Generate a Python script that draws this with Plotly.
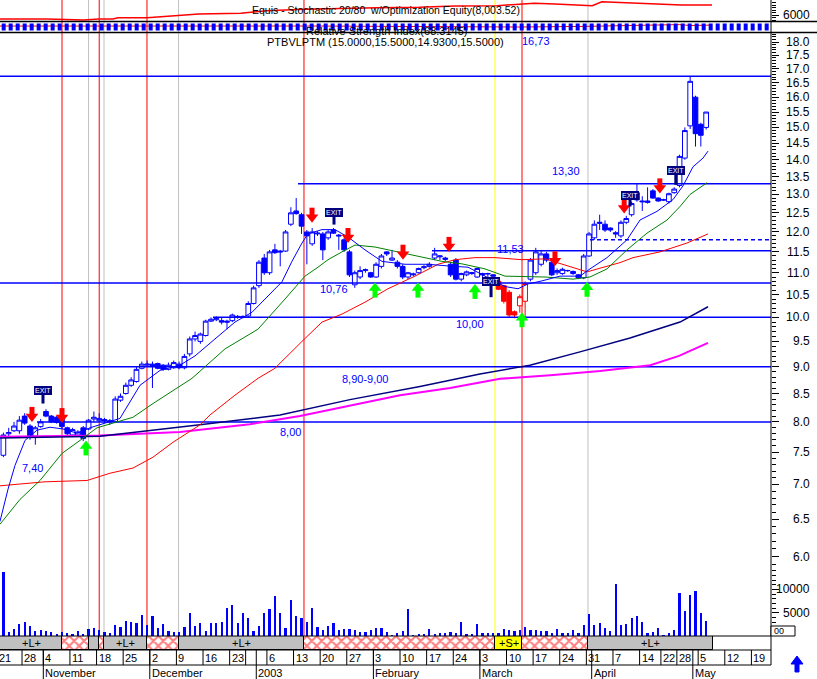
import math
import pandas as pd
import plotly.graph_objects as go

# ---------------- calendar (trading days, Lisbon) ----------------
calendar_start = "2002-10-21"
calendar_end = "2003-05-30"
market_holidays = ["2002-11-01", "2002-12-25", "2002-12-26", "2003-01-01",
                   "2003-04-18", "2003-04-21", "2003-04-25", "2003-05-01"]

week_tick_dates = ["2002-10-21", "2002-10-28", "2002-11-04", "2002-11-11", "2002-11-18", "2002-11-25",
                   "2002-12-02", "2002-12-09", "2002-12-16", "2002-12-23", "2002-12-30", "2003-01-06",
                   "2003-01-13", "2003-01-20", "2003-01-27", "2003-02-03", "2003-02-10", "2003-02-17",
                   "2003-02-24", "2003-03-03", "2003-03-10", "2003-03-17", "2003-03-24", "2003-03-31",
                   "2003-04-07", "2003-04-14", "2003-04-22", "2003-04-28", "2003-05-05", "2003-05-12",
                   "2003-05-19"]
week_tick_labels = ["21", "28", "4", "11", "18", "25", "2", "9", "16", "23", "", "6", "13", "20", "27",
                    "3", "10", "17", "24", "3", "10", "17", "24", "31", "7", "14", "22", "28", "5", "12", "19"]
month_tick_dates = ["2002-11-04", "2002-12-02", "2003-01-02", "2003-02-03", "2003-03-03", "2003-04-01", "2003-05-02"]
month_tick_labels = ["November", "December", "2003", "February", "March", "April", "May"]

# ---------------- candles (first candle = 22 Oct 2002) ----------------
first_candle_day = 1
candle_open = [7.45, 7.80, 7.85, 7.85, 8.10, 7.93, 7.76, 7.92, 8.18, 8.10,
               8.08, 8.05, 7.90, 7.78, 7.78, 7.90, 7.88, 8.05, 8.02, 8.04,
               8.00, 8.00, 8.38, 8.50, 8.65, 8.72, 8.97, 9.03, 9.05, 9.06,
               9.03, 8.95, 8.98, 9.05, 8.98, 9.25, 9.55, 9.50, 9.62, 9.92,
               9.95, 9.93, 9.92, 9.93, 10.00, 10.00, 10.03, 10.30, 10.70, 11.35,
               11.00, 11.55, 11.52, 11.52, 12.20, 12.55, 12.45, 12.00, 11.70, 11.95,
               11.95, 11.85, 12.05, 11.92, 11.80, 11.50, 10.72, 10.90, 11.05, 11.00,
               10.90, 11.15, 11.50, 11.30, 11.25, 11.15, 10.90, 10.95, 11.00, 11.12,
               11.15, 11.35, 11.38, 11.35, 11.20, 11.30, 10.85, 10.95, 10.98, 10.90,
               10.98, 10.97, 10.95, 10.80, 10.70, 10.55, 10.12, 10.25, 10.35, 10.85,
               11.00, 11.20, 11.45, 11.25, 11.00, 10.98,
               11.05, 11.03, 10.95, 10.88, 11.40, 11.85, 12.22, 12.20, 12.10, 11.98,
               11.90, 12.25, 12.45, 13.05, 12.82, 12.78, 13.10, 12.90, 12.85, 12.80,
               13.05, 13.25, 14.05, 15.05, 16.00, 15.10, 15.00]
candle_high = [7.82, 7.90, 8.00, 8.10, 8.15, 7.96, 7.93, 8.05, 8.22, 8.12,
               8.10, 8.08, 7.92, 7.90, 7.86, 7.93, 8.05, 8.18, 8.15, 8.07,
               8.05, 8.45, 8.50, 8.70, 8.80, 9.00, 9.10, 9.12, 9.10, 9.08,
               9.05, 9.08, 9.12, 9.10, 9.25, 9.60, 9.70, 9.68, 9.95, 10.00,
               10.02, 10.00, 9.95, 10.08, 10.05, 10.04, 10.35, 10.70, 11.30, 11.45,
               11.55, 11.70, 11.55, 12.05, 12.65, 12.90, 12.50, 12.05, 12.10, 12.02,
               12.00, 12.05, 12.10, 11.95, 11.85, 11.55, 11.05, 11.15, 11.10, 11.02,
               11.25, 11.45, 11.52, 11.55, 11.30, 11.20, 11.02, 11.00, 11.12, 11.18,
               11.25, 11.60, 11.42, 11.38, 11.25, 11.35, 11.00, 11.05, 11.02, 11.12,
               11.00, 11.00, 10.97, 10.85, 10.72, 10.60, 10.15, 10.50, 10.80, 11.35,
               11.60, 11.55, 11.50, 11.30, 11.10, 11.12,
               11.07, 11.05, 10.97, 11.45, 12.00, 12.30, 12.45, 12.30, 12.12, 12.02,
               12.30, 12.42, 12.80, 13.30, 12.95, 13.20, 13.15, 12.92, 12.88, 13.05,
               13.20, 14.15, 15.00, 16.73, 16.05, 15.15, 15.50]
candle_low = [7.42, 7.74, 7.83, 7.80, 7.95, 7.70, 7.62, 7.90, 8.08, 7.98,
              7.97, 7.88, 7.78, 7.76, 7.76, 7.68, 7.86, 8.00, 8.00, 7.98,
              7.95, 7.98, 8.35, 8.48, 8.62, 8.70, 8.95, 9.00, 8.60, 8.95,
              8.92, 8.93, 8.96, 8.95, 8.95, 9.20, 9.50, 9.45, 9.60, 9.90,
              9.92, 9.85, 9.75, 9.90, 9.97, 9.98, 10.00, 10.28, 10.65, 10.95,
              10.95, 11.45, 11.15, 11.50, 12.15, 12.45, 11.95, 11.20, 11.65, 11.90,
              11.30, 11.80, 11.95, 11.55, 11.50, 10.90, 10.65, 10.85, 11.00, 10.88,
              10.88, 11.10, 11.40, 11.28, 11.10, 10.85, 10.85, 10.92, 10.98, 11.08,
              11.12, 11.30, 11.30, 11.28, 10.90, 10.82, 10.80, 10.92, 10.95, 10.88,
              10.90, 10.90, 10.88, 10.60, 10.30, 10.00, 9.98, 10.10, 10.00, 10.80,
              10.95, 11.15, 11.25, 10.92, 10.95, 10.95,
              11.02, 10.95, 10.85, 10.85, 11.38, 11.80, 12.05, 12.00, 12.00, 11.85,
              11.85, 12.20, 12.40, 12.80, 12.55, 12.75, 12.88, 12.80, 12.82, 12.75,
              13.02, 13.20, 14.00, 14.95, 14.40, 14.40, 14.93]
candle_close = [7.78, 7.82, 7.93, 8.03, 7.98, 7.75, 7.90, 8.00, 8.10, 8.00,
                7.99, 7.92, 7.80, 7.87, 7.83, 7.72, 8.03, 8.08, 8.06, 8.02,
                8.02, 8.40, 8.45, 8.65, 8.75, 8.95, 9.05, 9.05, 9.02, 8.97,
                8.95, 9.03, 9.08, 8.98, 9.20, 9.55, 9.62, 9.65, 9.92, 9.96,
                9.98, 9.90, 9.90, 10.05, 10.02, 10.02, 10.30, 10.65, 11.25, 11.00,
                11.50, 11.48, 11.50, 12.00, 12.50, 12.48, 12.15, 11.90, 12.00, 11.97,
                11.55, 12.00, 11.97, 11.90, 11.55, 10.95, 11.00, 11.05, 11.07, 10.90,
                11.20, 11.40, 11.45, 11.35, 11.15, 10.90, 11.00, 10.97, 11.10, 11.14,
                11.20, 11.45, 11.40, 11.32, 10.95, 10.85, 10.98, 11.02, 11.00, 11.10,
                10.95, 10.98, 10.92, 10.62, 10.35, 10.05, 10.05, 10.45, 10.75, 11.30,
                11.50, 11.45, 11.30, 10.95, 11.05, 11.08,
                11.05, 10.98, 10.88, 11.40, 11.95, 12.20, 12.25, 12.05, 12.05, 11.95,
                12.25, 12.35, 12.75, 12.85, 12.80, 12.82, 12.90, 12.82, 12.85, 13.02,
                13.15, 14.10, 14.90, 16.55, 14.80, 14.75, 15.50]
short_candle_days = [94, 95, 96, 97, 98, 99]

volume = [13800, 920, 1430, 2570, 2920, 2150, 1070, 1290, 1070, 860,
          430, 860, 640, 430, 1070, 430, 1500, 1720, 1290, 790,
          640, 2360, 1930, 3150, 2920, 2860, 4440, 2290, 4290, 1650,
          2570, 1070, 860, 860, 1860, 4940, 2150, 2860, 1070, 2720,
          2790, 3080, 5930, 6650, 2860, 4860, 3930, 1070, 2150, 4860,
          5790, 8580, 4860, 1790, 7650, 4290, 3930, 2920, 5930, 2000,
          1220, 2150, 2860, 1360, 1430, 1500, 1290, 930, 930, 1290,
          1650, 1650, 860, 210, 570, 1070, 5720,
          210, 430, 430, 1430, 430, 720, 720, 930, 720, 2920,
          430, 430, 2570, 570, 720, 570, 720, 1500, 1290, 1070,
          1290, 1930, 1290, 1290, 1070, 1070, 720, 1500, 720, 720,
          1290, 720, 2360, 4720, 2290, 2790, 1650, 1140, 11150, 2430,
          2570, 3930, 4290, 2920, 720, 860, 1650, 210, 720, 1290,
          9150, 5360, 8800, 9650, 5000, 3150]

# ---------------- moving averages ----------------
ma_blue_day = [0.36, 1.87, 3.18, 5.06, 7.31, 9.76, 12.2, 14.83, 17.27, 19.15, 22.9, 26.66, 30.42, 34.17,
               36.99, 40.75, 44.5, 47.7, 50.7, 53.33, 55.2, 57.09, 58.2, 60.84, 63.29, 65.73, 68.92,
               72.11, 76.43, 80.75, 84.51, 88.27, 91.46, 93.34, 95.22, 97.66, 99.54, 102.17, 105.55,
               109.3, 111.18, 114.38, 118.13, 120.58, 123.77, 126.78, 128.65, 130.53, 132.41, 133.35]
ma_blue_val = [6.47, 6.93, 7.29, 7.69, 7.86, 7.91, 7.88, 7.81, 7.90, 7.95, 8.06, 8.65, 8.93, 9.03,
               9.21, 9.55, 9.90, 10.11, 10.46, 10.79, 11.27, 11.72, 11.95, 12.06, 12.06, 11.87, 11.55,
               11.27, 11.20, 11.20, 11.16, 11.13, 10.92, 10.79, 10.68, 10.63, 10.74, 10.81, 10.92,
               10.92, 11.09, 11.36, 11.80, 12.31, 12.54, 12.86, 13.24, 13.79, 14.05, 14.26]
ma_green_day = [0.36, 4.12, 7.88, 12.01, 15.39, 18.58, 21.59, 25.35, 29.10, 32.86, 34.17, 36.43, 42.63,
                48.82, 53.9, 57.65, 60.1, 61.97, 64.6, 67.05, 70.8, 75.12, 79.63, 83.38, 87.14, 91.46,
                95.22, 99.54, 102.73, 108.0, 111.18, 114.38, 118.13, 121.89, 125.65, 128.09, 129.97, 133.16]
ma_green_val = [6.43, 6.78, 7.06, 7.48, 7.69, 7.90, 7.98, 8.08, 8.32, 8.56, 8.63, 8.78, 9.35,
                9.75, 10.40, 10.92, 11.13, 11.31, 11.50, 11.67, 11.62, 11.50, 11.36, 11.27, 11.21, 11.09,
                10.92, 10.90, 10.90, 10.85, 10.90, 11.09, 11.55, 11.97, 12.31, 12.67, 13.00, 13.33]
ma_red_day = [0.36, 8.82, 16.7, 21.03, 25.35, 29.10, 32.86, 37.93, 39.81, 44.5, 48.82, 52.0, 57.09,
              60.84, 64.6, 68.92, 73.24, 78.31, 82.63, 85.83, 89.58, 93.34, 98.41, 102.73, 110.62,
              116.82, 119.26, 124.33, 129.4, 133.35]
ma_red_val = [6.98, 7.04, 7.06, 7.17, 7.25, 7.42, 7.66, 7.95, 8.12, 8.47, 8.78, 8.97, 9.50,
              9.90, 10.07, 10.33, 10.63, 10.92, 11.20, 11.31, 11.36, 11.36, 11.31, 11.33, 11.02,
              11.24, 11.36, 11.50, 11.72, 11.95]
ma_navy_day = [0.36, 19.15, 37.93, 52.96, 66.1, 79.25, 90.52, 99.9, 109.3, 118.7, 128.09, 133.35]
ma_navy_val = [7.73, 7.76, 7.95, 8.12, 8.39, 8.63, 8.86, 9.03, 9.29, 9.57, 9.90, 10.23]
ma_magenta_day = [0.36, 19.15, 34.17, 47.32, 56.71, 75.5, 84.9, 94.3, 103.7, 113.1, 122.5, 127.9, 133.35]
ma_magenta_val = [7.75, 7.77, 7.83, 7.96, 8.10, 8.47, 8.60, 8.77, 8.84, 8.92, 9.03, 9.21, 9.47]

# ---------------- horizontal levels ----------------
level_value = [16.73, 13.30, 11.53, 10.76, 10.00, 9.00, 8.00]
level_from_day = [0, 56.34, 81.51, 0, 40.37, 0, 7.31]
dashed_level_value = [11.80]
dashed_level_from_day = [111.18]
level_text = ["16,73", "13,30", "11,53", "10,76", "10,00", "8,90-9,00", "8,00", "7,40"]
level_text_day = [98.0, 103.7, 93.3, 60.1, 85.6, 64.2, 52.6, 4.1]
level_text_price = [18.04, 13.67, 11.57, 10.63, 9.86, 8.77, 7.83, 7.25]

# ---------------- signals ----------------
signal_day = [12.01, 17.0, 19.0, 19.9, 27.97, 33.9, 57.46, 93.34, 98.41, 110.8]
signal_kind = ["exit", "entry", "exit", "entry", "exit", "entry", "exit", "short", "exit", "entry"]

sell_arrow_day = [6.37, 12.01, 58.97, 65.73, 76.06, 84.7, 104.6, 117.6, 124.3]
sell_arrow_price = [8.00, 7.98, 12.24, 11.72, 11.31, 11.50, 11.15, 12.48, 13.03]
buy_arrow_day = [16.52, 70.8, 78.87, 89.58, 98.41, 110.62]
buy_arrow_price = [7.69, 10.77, 10.77, 10.74, 10.11, 10.79]

exit_day = [8.44, 63.1, 92.6, 118.7, 127.3]
exit_price = [8.56, 12.51, 10.79, 12.98, 13.67]
exit_stick_low = [8.32, 12.19, 10.44, 12.67, 13.27]

# position band: start, end, kind
band_start = [-1.0, 12.01, 17.0, 19.0, 19.9, 27.97, 33.9, 57.46, 93.34, 98.41, 110.8]
band_end = [12.01, 17.0, 19.0, 19.9, 27.97, 33.9, 57.46, 93.34, 98.41, 110.8, 134.3]
band_kind = ["L", "x", "g", "x", "L", "x", "L", "x", "S", "x", "L"]

# ---------------- top panels ----------------
equity_day = [0.36, 9.2, 16.1, 18.96, 21.6, 22.5, 28.0, 33.8, 37.7, 45.6, 50.5, 57.5, 64.2, 71.2,
              79.1, 85.8, 93.7, 98.8, 100.7, 104.6, 111.6, 113.4, 118.3, 128.3, 134.1]
equity_value = [5200, 5200, 5000, 5200, 5200, 5460, 5460, 5860, 6200, 6340, 6860, 7140, 7340, 7460,
                7540, 7800, 7860, 8200, 8340, 8200, 7860, 8660, 8460, 8000, 8000]
rsi_day = [0.36, 60.0, 98.0, 110.0, 128.0, 130.0, 134.1]
rsi_value = [58, 58, 50, 55, 70, 62, 66]

price_ticks = [round(6.0 + 0.5 * k, 1) for k in range(25)]
volume_ticks = [5000, 10000]
equity_ticks = [6000]

# ======================================================================
W, H = 817, 679
PLOT_RIGHT = 771
X_MIN, X_MAX = 0.3644, 145.18
P_LO, P_HI = 5.8694, 18.349
FONT = "Liberation Sans, Arial, sans-serif"
BLUE = "#0000ff"


def pf(py):
    return (H - py) / H


def px_x(px):
    return px / PLOT_RIGHT


PX_PER_LN = (567 - 33) / math.log(P_HI / P_LO)


def shift(price, px):
    return price * math.exp(px / PX_PER_LN)


cal = [d for d in pd.bdate_range(calendar_start, calendar_end)
       if d.strftime("%Y-%m-%d") not in market_holidays]
day_of = {d.strftime("%Y-%m-%d"): i for i, d in enumerate(cal)}

fig = go.Figure()

# levels
for v, d0 in zip(level_value, level_from_day):
    fig.add_trace(go.Scatter(x=[d0, X_MAX + 2], y=[v, v], mode="lines",
                             line=dict(color=BLUE, width=1.5), yaxis="y", hoverinfo="skip"))
for v, d0 in zip(dashed_level_value, dashed_level_from_day):
    fig.add_trace(go.Scatter(x=[d0, X_MAX + 2], y=[v, v], mode="lines",
                             line=dict(color=BLUE, width=1.5, dash="4px,3px"), yaxis="y", hoverinfo="skip"))

# moving averages
for xs, ys, col, w in [(ma_magenta_day, ma_magenta_val, "#ff00ff", 2),
                       (ma_navy_day, ma_navy_val, "#000080", 1.5),
                       (ma_red_day, ma_red_val, "#ff0000", 1),
                       (ma_green_day, ma_green_val, "#008000", 1),
                       (ma_blue_day, ma_blue_val, BLUE, 1)]:
    fig.add_trace(go.Scatter(x=xs, y=ys, mode="lines", line=dict(color=col, width=w),
                             yaxis="y", hoverinfo="skip"))

# candles
days = list(range(first_candle_day, first_candle_day + len(candle_open)))
for is_short, col in [(False, BLUE), (True, "#ff0000")]:
    idx = [k for k, d in enumerate(days) if (d in short_candle_days) == is_short]
    fig.add_trace(go.Candlestick(
        x=[days[k] for k in idx], open=[candle_open[k] for k in idx],
        high=[candle_high[k] for k in idx], low=[candle_low[k] for k in idx],
        close=[candle_close[k] for k in idx],
        increasing=dict(line=dict(color=col, width=1), fillcolor="white"),
        decreasing=dict(line=dict(color=col, width=1), fillcolor=col),
        whiskerwidth=0, yaxis="y", hoverinfo="skip", showlegend=False))

# sell arrows (red, pointing down)
for d, p in zip(sell_arrow_day, sell_arrow_price):
    fig.add_trace(go.Scatter(x=[d, d], y=[shift(p, 7), shift(p, 15)], mode="lines",
                             line=dict(color="#ff0000", width=5), yaxis="y", hoverinfo="skip"))
fig.add_trace(go.Scatter(x=sell_arrow_day, y=[shift(p, 5.5) for p in sell_arrow_price], mode="markers",
                         marker=dict(symbol="triangle-down", size=11, color="#ff0000", line=dict(width=0)),
                         yaxis="y", hoverinfo="skip"))
# buy arrows (green, pointing up)
for d, p in zip(buy_arrow_day, buy_arrow_price):
    fig.add_trace(go.Scatter(x=[d, d], y=[shift(p, -7), shift(p, -15)], mode="lines",
                             line=dict(color="#00ff00", width=5), yaxis="y", hoverinfo="skip"))
fig.add_trace(go.Scatter(x=buy_arrow_day, y=[shift(p, -5.5) for p in buy_arrow_price], mode="markers",
                         marker=dict(symbol="triangle-up", size=11, color="#00ff00", line=dict(width=0)),
                         yaxis="y", hoverinfo="skip"))

# exit sticks
for d, p, lo in zip(exit_day, exit_price, exit_stick_low):
    fig.add_trace(go.Scatter(x=[d, d], y=[p, lo], mode="lines", line=dict(color="#000080", width=3),
                             yaxis="y", hoverinfo="skip"))

# volume
fig.add_trace(go.Bar(x=days, y=volume, width=0.42, marker=dict(color=BLUE, line=dict(width=0)),
                     yaxis="y2", hoverinfo="skip"))

# position band
band_style = {
    "L": dict(color="#c0c0c0"),
    "g": dict(color="#c0c0c0"),
    "S": dict(color="#ffff00"),
    "x": dict(color="white", pattern=dict(shape="x", fgcolor="#ff0000", bgcolor="white", size=7, solidity=0.5)),
}
for kind in ["L", "g", "S", "x"]:
    ks = [k for k, t in enumerate(band_kind) if t == kind]
    if not ks:
        continue
    mk = dict(band_style[kind])
    mk["line"] = dict(color="black", width=1)
    fig.add_trace(go.Bar(x=[(band_start[k] + band_end[k]) / 2 for k in ks],
                         y=[1] * len(ks), base=0, width=[band_end[k] - band_start[k] for k in ks],
                         marker=mk, yaxis="y5", hoverinfo="skip"))

# date axis rows
wx, wy = [], []
for ds in week_tick_dates:
    t = day_of[ds] - 0.5
    wx += [t, t, None]
    wy += [0.4828, 1, None]
for ds in month_tick_dates:
    t = day_of[ds] - 0.5
    wx += [t, t, None]
    wy += [0, 1, None]
fig.add_trace(go.Scatter(x=wx, y=wy, mode="lines", line=dict(color="black", width=1),
                         yaxis="y6", hoverinfo="skip"))

# equity and RSI panels
fig.add_trace(go.Scatter(x=equity_day, y=equity_value, mode="lines", line=dict(color="#ff0000", width=1.5),
                         yaxis="y3", hoverinfo="skip"))
fig.add_trace(go.Scatter(x=rsi_day, y=rsi_value, mode="lines", line=dict(color="#ff0000", width=1),
                         yaxis="y4", hoverinfo="skip"))
fig.add_trace(go.Scatter(x=[X_MIN - 1, X_MAX + 1], y=[50, 50], mode="lines",
                         line=dict(color=BLUE, width=7, dash="4px,3px"), yaxis="y4", hoverinfo="skip"))

# ---------------- shapes ----------------
shapes = []
sig_col = {"exit": "#ff0000", "entry": "#c0c0c0", "short": "#ffff00"}
for d, k in zip(signal_day, signal_kind):
    shapes.append(dict(type="line", xref="x", yref="paper", x0=d, x1=d, y0=pf(636), y1=1,
                       line=dict(color=sig_col[k], width=1), layer="below"))
for py, x1 in [(21.5, W / PLOT_RIGHT), (32.5, W / PLOT_RIGHT), (636, 1), (650, 1), (665, 1)]:
    shapes.append(dict(type="line", xref="paper", yref="paper", x0=0, x1=x1, y0=pf(py), y1=pf(py),
                       line=dict(color="black", width=1.5 if py < 40 else 1)))
shapes.append(dict(type="line", xref="paper", yref="paper", x0=1, x1=1, y0=pf(665), y1=1,
                   line=dict(color="black", width=1)))
shapes.append(dict(type="rect", xref="paper", yref="paper", x0=1.0, x1=px_x(795),
                   y0=pf(636), y1=pf(626), line=dict(color="black", width=1), fillcolor="white"))
# scroll-up icon at bottom right
icon = [(797, 656), (803, 664), (799, 664), (799, 672), (795, 672), (795, 664), (791, 664)]
path = "M " + " L ".join(f"{px_x(a):.5f},{pf(b):.5f}" for a, b in icon) + " Z"
shapes.append(dict(type="path", xref="paper", yref="paper", path=path, fillcolor=BLUE,
                   line=dict(color=BLUE, width=1)))

# ---------------- annotations ----------------
ann = []
AX = px_x(812)
for v in price_ticks:
    ann.append(dict(xref="paper", yref="y", x=AX, y=math.log10(v), text=f"{v:.1f}", showarrow=False,
                    xanchor="right", yanchor="middle", font=dict(family=FONT, size=12, color="black")))
for v in volume_ticks:
    ann.append(dict(xref="paper", yref="y2", x=AX, y=v, text=str(v), showarrow=False,
                    xanchor="right", yanchor="middle", font=dict(family=FONT, size=12, color="black")))
for v in equity_ticks:
    ann.append(dict(xref="paper", yref="y3", x=AX, y=v, text=str(v), showarrow=False,
                    xanchor="right", yanchor="middle", font=dict(family=FONT, size=12, color="black")))
ann.append(dict(xref="paper", yref="paper", x=px_x(772), y=pf(631), text="00", showarrow=False,
                xanchor="left", yanchor="middle", font=dict(family=FONT, size=9, color="black")))

for t, d, p in zip(level_text, level_text_day, level_text_price):
    ann.append(dict(xref="x", yref="y", x=d, y=math.log10(p), text=t, showarrow=False,
                    xanchor="left", yanchor="middle", font=dict(family=FONT, size=11, color=BLUE)))

for d, p in zip(exit_day, exit_price):
    ann.append(dict(xref="x", yref="y", x=d, y=math.log10(p), text="EXIT", showarrow=False,
                    xanchor="center", yanchor="middle", bgcolor="#000080", bordercolor="#000080",
                    borderpad=0, font=dict(family=FONT, size=7, color="white")))

for s, e, k in zip(band_start, band_end, band_kind):
    if k in ("L", "S"):
        ann.append(dict(xref="x", yref="y5", x=(max(s, X_MIN) + e) / 2, y=0.5,
                        text="+L+" if k == "L" else "+S+", showarrow=False, xanchor="center",
                        yanchor="middle", font=dict(family=FONT, size=11, color="black")))

for ds, lab in zip(week_tick_dates, week_tick_labels):
    t = day_of[ds] - 0.5
    if not lab:
        continue
    ann.append(dict(xref="x", yref="y6", x=max(t, X_MIN + 0.001), y=0.724, text=lab, showarrow=False,
                    xanchor="left", yanchor="middle", xshift=0 if t > X_MIN else -3,
                    font=dict(family=FONT, size=11, color="black")))
for ds, lab in zip(month_tick_dates, month_tick_labels):
    t = day_of[ds] - 0.5
    ann.append(dict(xref="x", yref="y6", x=t, y=0.224, text=lab, showarrow=False,
                    xanchor="left", yanchor="middle", font=dict(family=FONT, size=11, color="black")))

ann.append(dict(xref="paper", yref="paper", x=px_x(386), y=pf(10),
                text="Equis - Stochastic 20/80  w/Optimization Equity(8,003.52)", showarrow=False,
                xanchor="center", yanchor="middle", font=dict(family=FONT, size=10.5, color="black")))
ann.append(dict(xref="paper", yref="paper", x=px_x(386), y=pf(31),
                text="Relative Strength Index(68.3145)", showarrow=False,
                xanchor="center", yanchor="middle", font=dict(family=FONT, size=11, color="black")))
ann.append(dict(xref="paper", yref="paper", x=px_x(385), y=pf(42),
                text="PTBVLPTM (15.0000,15.5000,14.9300,15.5000)", showarrow=False,
                xanchor="center", yanchor="middle", font=dict(family=FONT, size=11, color="black")))

minor_price = [round(5.9 + 0.1 * k, 1) for k in range(125)]
minor_price = [v for v in minor_price if abs(v * 2 - round(v * 2)) > 1e-6]
minor_vol = [v for v in range(1000, 15000, 1000) if v not in volume_ticks]

common = dict(anchor="x", side="right", showgrid=False, zeroline=False, showline=False,
              ticks="outside", ticklen=7, tickcolor="black", tickwidth=1, showticklabels=False)

fig.update_layout(
    width=W, height=H, margin=dict(l=0, r=W - PLOT_RIGHT, t=0, b=0, pad=0),
    paper_bgcolor="white", plot_bgcolor="white", showlegend=False, hovermode=False,
    barmode="overlay", bargap=0, boxgap=0.12, boxgroupgap=0, boxmode="overlay",
    xaxis=dict(range=[X_MIN, X_MAX], visible=False, rangeslider=dict(visible=False)),
    yaxis=dict(type="log", range=[math.log10(P_LO), math.log10(P_HI)], domain=[pf(567), pf(33)],
               tickvals=price_ticks,
               minor=dict(tickvals=minor_price, ticks="outside", ticklen=4, tickcolor="black"), **common),
    yaxis2=dict(range=[0, 14807], domain=[pf(636), pf(567)], tickvals=volume_ticks,
                minor=dict(tickvals=minor_vol, ticks="outside", ticklen=4, tickcolor="black"), **common),
    yaxis3=dict(range=[4800, 9000], domain=[pf(21), 1], tickvals=equity_ticks,
                minor=dict(tickvals=[5000, 5500, 6500, 7000, 7500, 8000, 8500], ticks="outside",
                           ticklen=4, tickcolor="black"), **common),
    yaxis4=dict(range=[0, 100], domain=[pf(33), pf(21)], anchor="x", visible=False),
    yaxis5=dict(range=[0, 1], domain=[pf(650), pf(636)], anchor="x", visible=False),
    yaxis6=dict(range=[0, 1], domain=[0, pf(650)], anchor="x", visible=False),
    shapes=shapes, annotations=ann,
)

fig.write_html("out.html", config={"displayModeBar": False},
               post_script="document.body.style.margin='0';document.body.style.padding='0';"
                           "document.documentElement.style.overflow='hidden';")
